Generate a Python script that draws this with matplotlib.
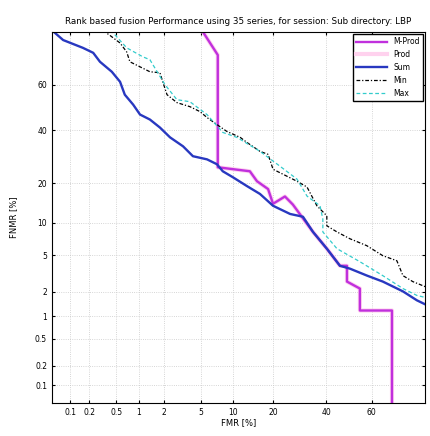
import numpy as np
import matplotlib
matplotlib.use('Agg')
from matplotlib import pyplot as plt
from statistics import NormalDist

# DET curves (values in %), read as (FMR, FNMR) pairs
mprod_fmr  = [4.8, 7.3, 7.3, 13.6, 15.4, 18.5, 20.0, 23.9, 26.7, 34.5, 40.3, 46.0, 49.1, 49.1, 54.8, 54.8, 68.3, 68.3]
mprod_fnmr = [82.0, 72.1, 25.3, 23.9, 20.6, 18.2, 14.2, 16.1, 14.0, 8.3, 5.8, 3.9, 3.9, 2.63, 2.19, 1.19, 1.19, 0.03]

prod_fmr  = [4.8, 7.3, 7.3, 13.6, 15.4, 18.5, 20.0, 23.9, 26.7, 34.5, 40.3, 46.0, 49.1, 49.1, 54.8, 54.8, 68.3, 68.3]
prod_fnmr = [82.0, 72.1, 25.3, 23.9, 20.6, 18.2, 14.2, 16.1, 14.0, 8.3, 5.8, 3.9, 3.9, 2.63, 2.19, 1.19, 1.19, 0.03]

sum_fmr  = [0.04, 0.077, 0.16, 0.23, 0.29, 0.43, 0.56, 0.65, 0.84, 1.03, 1.37, 1.81, 2.37, 3.30, 4.19, 5.79,
            7.17, 8.1, 9.9, 12.9, 16.2, 20.0, 25.7, 30.5, 34.5, 40.3, 46.0, 50.4, 57.8, 64.6, 72.5, 77.4, 82.0]
sum_fnmr = [82.0, 77.4, 74.7, 72.9, 69.5, 65.5, 61.3, 55.7, 51.3, 46.9, 44.7, 41.2, 37.0, 33.3, 29.4, 28.2,
            26.4, 23.9, 21.9, 19.1, 16.8, 13.7, 11.8, 11.2, 8.3, 5.8, 3.9, 3.64, 3.07, 2.63, 2.03, 1.59, 1.30]

min_fmr  = [0.25, 0.40, 0.56, 0.69, 0.76, 1.03, 1.37, 1.81, 1.97, 2.19, 2.83, 3.90, 4.94, 5.78, 7.17, 8.81,
            11.4, 12.9, 16.2, 18.5, 20.0, 23.2, 28.2, 32.1, 36.1, 40.3, 40.3, 44.7, 50.4, 57.8, 64.6, 70.2,
            72.5, 76.0, 82.0]
min_fnmr = [82.0, 79.0, 76.4, 73.2, 69.5, 67.5, 65.5, 65.1, 60.9, 55.7, 52.2, 50.4, 48.2, 45.6, 42.5, 39.5,
            37.0, 34.9, 31.3, 30.1, 24.6, 22.9, 20.6, 18.8, 13.7, 11.4, 9.4, 8.3, 7.2, 6.2, 4.95, 4.4,
            3.06, 2.63, 2.15]

max_fmr  = [0.36, 0.69, 1.12, 1.37, 2.07, 2.83, 3.90, 5.78, 8.1, 10.7, 16.2, 22.2, 28.2, 32.1, 37.4, 38.6,
            38.6, 44.7, 54.8, 64.6, 72.5, 77.4, 82.0]
max_fnmr = [82.0, 74.7, 71.4, 70.3, 60.1, 53.5, 52.6, 46.9, 39.1, 37.0, 31.3, 25.7, 21.3, 16.2, 13.7, 10.7,
            8.3, 5.8, 4.3, 3.06, 2.19, 1.82, 1.65]

ticks = [0.1, 0.2, 0.5, 1, 2, 5, 10, 20, 40, 60]
tick_labels = ['0.1', '0.2', '0.5', '1', '2', '5', '10', '20', '40', '60']

_nd = NormalDist()
_ppf = np.vectorize(lambda p: _nd.inv_cdf(min(max(p / 100.0, 1e-9), 1 - 1e-9)), otypes=[float])
_cdf = np.vectorize(lambda z: 100.0 * _nd.cdf(z), otypes=[float])

def probit(p):
    return _ppf(np.asarray(p, dtype=float))

def inv_probit(z):
    return _cdf(np.asarray(z, dtype=float))

fig = plt.figure(figsize=(4.31, 4.36), dpi=100)
ax = fig.add_axes([0.1206, 0.0757, 0.8654, 0.8509])
ax.set_xscale('function', functions=(probit, inv_probit))
ax.set_yscale('function', functions=(probit, inv_probit))

ax.plot(prod_fmr, prod_fnmr, color='#ffd2ee', lw=3.0, label='Prod')
ax.plot(mprod_fmr, mprod_fnmr, color='#c030dd', lw=1.7, label='M-Prod')
ax.plot(sum_fmr, sum_fnmr, color='#2838c0', lw=1.7, label='Sum')
ax.plot(min_fmr, min_fnmr, color='k', lw=0.9, ls=(0, (3, 1.5, 1, 1.5)), label='Min')
ax.plot(max_fmr, max_fnmr, color='#33cccc', lw=0.9, ls=(0, (3, 2)), label='Max')

ax.set_xlim(0.05, 80)
ax.set_ylim(0.05, 80)
ax.set_xticks(ticks)
ax.set_xticklabels(tick_labels)
ax.set_yticks(ticks)
ax.set_yticklabels(tick_labels)
ax.minorticks_off()
ax.tick_params(axis='both', labelsize=5.5, length=2, direction='in', top=True, right=True)
ax.grid(True, color='#c8c8c8', ls=':', lw=0.6)

ax.set_xlabel('FMR [%]', fontsize=6, labelpad=1)
ax.set_ylabel('FNMR [%]', fontsize=6, labelpad=12)
ax.set_title('Rank based fusion Performance using 35 series, for session: Sub directory: LBP',
             fontsize=6.3, pad=6)

h, l = ax.get_legend_handles_labels()
order = [1, 0, 2, 3, 4]
ax.legend([h[i] for i in order], [l[i] for i in order], loc='upper right', fontsize=5.5,
          fancybox=False, edgecolor='k', framealpha=1, borderaxespad=0.3, handlelength=4.0,
          labelspacing=0.5)

fig.savefig('out.png', dpi=100)
